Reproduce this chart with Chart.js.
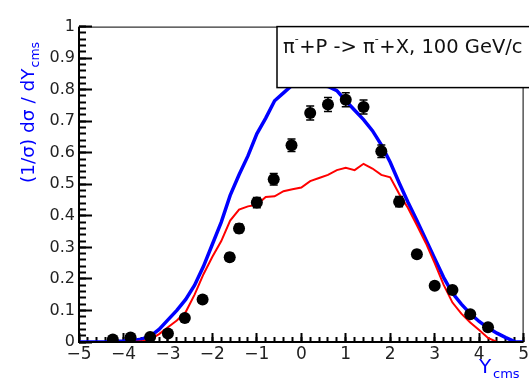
<!DOCTYPE html>
<html>
<head>
<meta charset="utf-8">
<script src="https://cdn.jsdelivr.net/npm/chart.js@4.4.1/dist/chart.umd.min.js"></script>
<style>
  html, body { margin: 0; padding: 0; background: #fff; overflow: hidden; width: 529px; height: 382px; }
  canvas { display: block; }
</style>
</head>
<body>
<canvas id="c" width="540" height="382"></canvas>
<script>
// Rapidity grid shared by both model curves
const rapidity = [
  -5.0, -4.8, -4.6, -4.4, -4.2, -4.0, -3.8, -3.6, -3.4, -3.2,
  -3.0, -2.8, -2.6, -2.4, -2.2, -2.0, -1.8, -1.6, -1.4, -1.2,
  -1.0, -0.8, -0.6, -0.4, -0.2, 0.0, 0.2, 0.4, 0.6, 0.8,
  1.0, 1.2, 1.4, 1.6, 1.8, 2.0, 2.2, 2.4, 2.6, 2.8,
  3.0, 3.2, 3.4, 3.6, 3.8, 4.0, 4.2, 4.4, 4.6, 4.8, 5.0
];
// Blue model curve
const blueCurve = [
  0, 0, 0, 0, 0.002, 0.003, 0.005, 0.009, 0.018, 0.040,
  0.070, 0.100, 0.135, 0.180, 0.240, 0.310, 0.380, 0.465, 0.530, 0.590,
  0.660, 0.710, 0.765, 0.790, 0.815, 0.818, 0.818, 0.815, 0.810, 0.797,
  0.765, 0.735, 0.705, 0.670, 0.625, 0.570, 0.505, 0.443, 0.385, 0.325,
  0.265, 0.205, 0.155, 0.120, 0.090, 0.065, 0.045, 0.028, 0.014, 0.001, 0
];
// Red model curve
const redCurve = [
  0, 0, 0, 0, 0, 0, 0, 0.002, 0.008, 0.025,
  0.047, 0.068, 0.095, 0.150, 0.215, 0.270, 0.320, 0.385, 0.420, 0.430,
  0.435, 0.460, 0.462, 0.478, 0.484, 0.490, 0.510, 0.520, 0.530, 0.545,
  0.552, 0.545, 0.565, 0.550, 0.530, 0.522, 0.470, 0.425, 0.370, 0.314,
  0.250, 0.182, 0.125, 0.090, 0.062, 0.038, 0.013, 0, 0, 0, 0
];
// Measured points
const dataRapidity = [
  -4.24, -3.84, -3.40, -3.00, -2.62, -2.22, -1.61, -1.40, -1.00, -0.62, -0.22,
  0.20, 0.60, 1.00, 1.40, 1.80, 2.20, 2.60, 3.00, 3.40, 3.80, 4.20
];
const dataValue = [
  0.008, 0.014, 0.016, 0.027, 0.076, 0.135, 0.269, 0.360, 0.442, 0.516, 0.624,
  0.726, 0.753, 0.768, 0.745, 0.605, 0.445, 0.278, 0.178, 0.165, 0.088, 0.047
];
const dataError = [
  0.004, 0.004, 0.004, 0.005, 0.008, 0.010, 0.012, 0.014, 0.016, 0.018, 0.020,
  0.022, 0.022, 0.022, 0.022, 0.020, 0.016, 0.012, 0.010, 0.010, 0.008, 0.006
];
// Axis tick labels
const xTickLabels = ['\u22125', '\u22124', '\u22123', '\u22122', '\u22121', '0', '1', '2', '3', '4', '5'];
const yTickLabels = ['0', '0.1', '0.2', '0.3', '0.4', '0.5', '0.6', '0.7', '0.8', '0.9', '1'];

const FONT = '"DejaVu Sans", sans-serif';

const toPairs = (xs, ys) => xs.map((x, i) => ({ x: x, y: ys[i] }));

// Tick marks pointing into the plot (negative tick length)
const inwardGrid = len => ({
  display: true, drawOnChartArea: false, drawTicks: true,
  tickLength: -len, tickColor: '#000', tickWidth: 2
});

const decor = {
  id: 'decor',
  afterDatasetsDraw(chart) {
    // error bars with end caps
    const ctx = chart.ctx, xs = chart.scales.x, ys = chart.scales.y;
    ctx.save();
    ctx.strokeStyle = '#000';
    ctx.lineWidth = 1.5;
    dataRapidity.forEach((x, i) => {
      const px = xs.getPixelForValue(x);
      const top = ys.getPixelForValue(dataValue[i] + dataError[i]);
      const bot = ys.getPixelForValue(dataValue[i] - dataError[i]);
      ctx.beginPath();
      ctx.moveTo(px, top); ctx.lineTo(px, bot);
      ctx.moveTo(px - 4, top); ctx.lineTo(px + 4, top);
      ctx.moveTo(px - 4, bot); ctx.lineTo(px + 4, bot);
      ctx.stroke();
    });
    ctx.restore();
  },
  afterDraw(chart) {
    const ctx = chart.ctx;
    const xs = chart.scales.x, ys = chart.scales.y;
    const L = xs.getPixelForValue(-5), R = xs.getPixelForValue(5);
    const B = ys.getPixelForValue(0), T = ys.getPixelForValue(1);
    ctx.save();
    ctx.fillStyle = '#000';

    // frame
    ctx.fillRect(L, T, R - L, 1);
    ctx.fillRect(R - 1, T, 1, B - T);
    ctx.fillRect(L - 1, T, 2, B - T + 1);
    ctx.fillRect(L - 1, B - 1, R - L + 1, 2);

    // title box
    const bx = 277, by = T, bw = 270, bh = 61;
    ctx.fillStyle = '#fff';
    ctx.fillRect(bx, by, bw, bh);
    ctx.strokeStyle = '#000';
    ctx.lineWidth = 1.5;
    ctx.setLineDash([]);
    ctx.strokeRect(bx, by, bw, bh);

    ctx.fillStyle = '#111';
    ctx.textAlign = 'left';
    ctx.textBaseline = 'alphabetic';
    const parts = [
      ['\u03c0', false], ['-', true], ['+P -> \u03c0', false], ['-', true], ['+X, 100 GeV/c', false]
    ];
    let tx = 283;
    const base = 53;
    parts.forEach(([t, sup]) => {
      ctx.font = sup ? '11px ' + FONT : '19.5px ' + FONT;
      ctx.fillText(t, tx, sup ? base - 11 : base);
      tx += ctx.measureText(t).width + (sup ? 0.5 : 0);
    });

    // y-axis title (rotated)
    ctx.fillStyle = '#0000ff';
    ctx.save();
    ctx.translate(34, 183);
    ctx.rotate(-Math.PI / 2);
    ctx.font = '18.5px ' + FONT;
    const main = '(1/\u03c3) d\u03c3 / dY';
    ctx.fillText(main, 0, 0);
    const w = ctx.measureText(main).width;
    ctx.font = '12.5px ' + FONT;
    ctx.fillText('cms', w + 1, 5);
    ctx.restore();

    // x-axis title
    ctx.font = '20px ' + FONT;
    ctx.fillText('Y', 479, 373);
    ctx.font = '13px ' + FONT;
    ctx.fillText('cms', 493, 378);
    ctx.restore();
  }
};

new Chart(document.getElementById('c'), {
  type: 'scatter',
  data: {
    datasets: [
      {
        label: 'data',
        data: toPairs(dataRapidity, dataValue),
        pointRadius: 6,
        pointBackgroundColor: '#000',
        pointBorderWidth: 0,
        showLine: false
      },
      {
        label: 'red',
        type: 'line',
        data: toPairs(rapidity, redCurve),
        borderColor: '#ff0000',
        borderWidth: 2,
        pointRadius: 0,
        tension: 0,
        fill: false
      },
      {
        label: 'blue',
        type: 'line',
        data: toPairs(rapidity, blueCurve),
        borderColor: '#0000ff',
        borderWidth: 3.5,
        pointRadius: 0,
        tension: 0,
        fill: false
      }
    ]
  },
  options: {
    responsive: false,
    devicePixelRatio: 1,
    animation: false,
    layout: { padding: { top: 17, right: 7, left: 0, bottom: 0 } },
    plugins: { legend: { display: false }, tooltip: { enabled: false } },
    scales: {
      x: {
        type: 'linear', position: 'bottom', weight: 0, min: -5, max: 5,
        grid: inwardGrid(9),
        border: { display: false },
        ticks: {
          stepSize: 1, padding: 11, color: '#222', maxRotation: 0, autoSkip: false,
          font: { family: FONT, size: 17 },
          callback: (v, i) => xTickLabels[i]
        },
        afterFit: s => { s.height = 40; }
      },
      xMinor: {
        type: 'linear', axis: 'x', position: 'bottom', weight: -1, min: -5, max: 5,
        grid: inwardGrid(5),
        border: { display: false },
        ticks: { stepSize: 0.2, autoSkip: false, padding: 0, callback: () => '' },
        afterFit: s => { s.height = 0; }
      },
      y: {
        type: 'linear', position: 'left', weight: 0, min: 0, max: 1,
        grid: inwardGrid(13),
        border: { display: false },
        ticks: {
          stepSize: 0.1, padding: 17, color: '#222', autoSkip: false,
          font: { family: FONT, size: 16 },
          callback: (v, i) => yTickLabels[i]
        },
        afterFit: s => { s.width = 79; }
      },
      yMinor: {
        type: 'linear', axis: 'y', position: 'left', weight: -1, min: 0, max: 1,
        grid: inwardGrid(7),
        border: { display: false },
        ticks: { stepSize: 0.02, autoSkip: false, padding: 0, callback: () => '' },
        afterFit: s => { s.width = 0; }
      }
    }
  },
  plugins: [decor]
});
</script>
</body>
</html>
